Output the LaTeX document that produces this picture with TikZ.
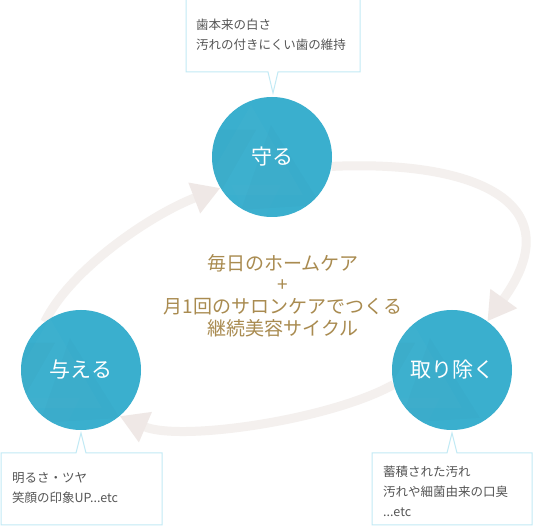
\documentclass[tikz,border=0pt]{standalone}
\usepackage{fontspec}
\setmainfont{Noto Sans CJK JP}
\usetikzlibrary{arrows.meta}
\definecolor{circ}{HTML}{3AAFCE}
\definecolor{arr}{HTML}{F4F0EE}
\definecolor{arrhead}{HTML}{EFE8E6}
\definecolor{gold}{HTML}{A98B50}
\definecolor{boxline}{HTML}{C2EAF5}
\definecolor{txt}{HTML}{555555}
\pgfdeclarelayer{background}
\pgfsetlayers{background,main}
\tikzset{
  bubble/.style={circle, fill=circ, minimum size=120pt, inner sep=0pt, text=white,
    font=\fontsize{21pt}{24pt}\selectfont,
    path picture={
      \begin{scope}[shift={(path picture bounding box.center)}]
        \fill[black,opacity=.015] (-75,-35) -- (5,-35) -- (-35,35) -- cycle;
        \fill[white,opacity=.015] (0,-60) -- (52,30) -- (-52,30) -- cycle;
        \fill[black,opacity=.012] (20,-40) -- (70,40) -- (-10,45) -- cycle;
        \fill[white,opacity=.012] (-20,20) -- (30,20) -- (5,70) -- cycle;
      \end{scope}}},
  cyc/.style={line width=9pt, draw=arr, -{Triangle[length=28pt,width=31pt,fill=arrhead,color=arrhead]}},
  callout/.style={draw=boxline, line width=1pt, fill=white},
  note/.style={align=left, anchor=west, text=txt, inner sep=0pt,
    font=\fontsize{12.5pt}{20pt}\selectfont},
  centre/.style={align=center, text=gold, inner sep=0pt,
    font=\fontsize{19pt}{21.7pt}\selectfont}
}
\begin{document}
\begin{tikzpicture}[x=1pt,y=-1pt]
\useasboundingbox (0,0) rectangle (550,526);

% circles
\node[bubble] (mamoru) at (272,157) {守る};
\node[bubble] (ataeru) at (81,370) {与える};
\node[bubble] (torinozoku) at (452,370) {取り除く};

% arrows (behind)
\begin{pgfonlayer}{background}
\fill[white] (0,0) rectangle (550,526);
\draw[cyc] (mamoru.-9) .. controls (470,160) and (575,200) .. (torinozoku.54);
\draw[cyc] (torinozoku.194) .. controls (330,420) and (180,442) .. (ataeru.-50);
\draw[cyc] (ataeru.127) .. controls (70,270) and (150,215) .. (mamoru.211);
\end{pgfonlayer}

% callouts
\draw[callout] (186,-3) -- (186,72) -- (268,72) -- (273,93) -- (278,72) -- (360,72) -- (360,-3);
\draw[callout] (1,453) -- (76,453) -- (81,433) -- (86,453) -- (162,453) -- (162,525) -- (1,525) -- cycle;
\draw[callout] (372,453) -- (447,453) -- (452,433) -- (457,453) -- (532,453) -- (532,525) -- (372,525) -- cycle;

\node[note] (n1) at (196,35) {歯本来の白さ\\汚れの付きにくい歯の維持};
\node[note] (n2) at (12,488.5) {明るさ・ツヤ\\笑顔の印象UP...etc};
\node[note] (n3) at (383,491) {蓄積された汚れ\\汚れや細菌由来の口臭\\...etc};

% centre text
\node[centre] (mid) at (283,295.5) {毎日のホームケア\\+\\月1回のサロンケアでつくる\\継続美容サイクル};
\end{tikzpicture}
\end{document}
